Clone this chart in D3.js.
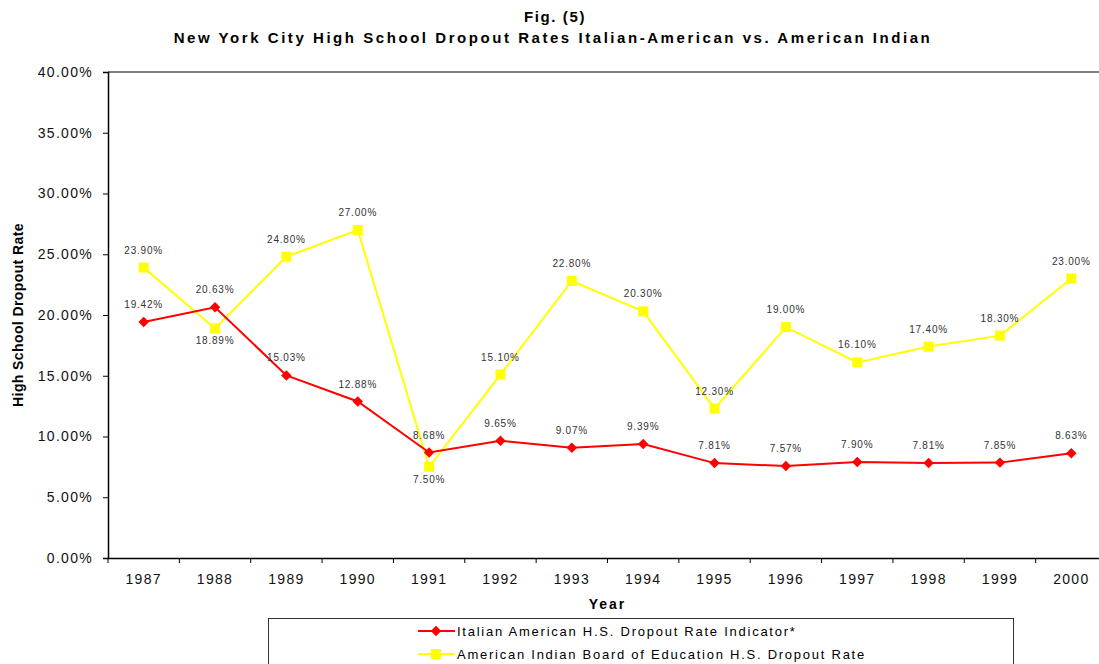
<!DOCTYPE html>
<html>
<head>
<meta charset="utf-8">
<script src="https://cdn.jsdelivr.net/npm/d3@7"></script>
<style>
  html, body { margin: 0; padding: 0; background: #fff; }
  svg { display: block; font-family: "Liberation Sans", Arial, sans-serif; }
</style>
</head>
<body>
<svg id="chart" width="1099" height="664"></svg>
<script>
const years = ["1987","1988","1989","1990","1991","1992","1993","1994","1995","1996","1997","1998","1999","2000"];
const italianValues = [19.42, 20.63, 15.03, 12.88, 8.68, 9.65, 9.07, 9.39, 7.81, 7.57, 7.90, 7.81, 7.85, 8.63];
const indianValues = [23.90, 18.89, 24.80, 27.00, 7.50, 15.10, 22.80, 20.30, 12.30, 19.00, 16.10, 17.40, 18.30, 23.00];
const indianLabelBelow = ["1988", "1991"];
const yTicks = [0, 5, 10, 15, 20, 25, 30, 35, 40];
const seriesNames = ["Italian American H.S. Dropout Rate Indicator*", "American Indian Board of Education H.S. Dropout Rate"];
const titleLines = ["Fig. (5)", "New York City High School Dropout Rates Italian-American vs. American Indian"];

const svg = d3.select("#chart");
const margin = { left: 108, top: 72, right: 1107, bottom: 558 };

const x = d3.scaleBand().domain(years).range([margin.left, margin.right]).padding(0);
const y = d3.scaleLinear().domain([0, 40]).range([margin.bottom, margin.top]);

// Title
svg.append("text").attr("x", 555).attr("y", 22).attr("text-anchor", "middle")
  .attr("font-size", 15).attr("font-weight", "bold").attr("letter-spacing", 1.6).attr("fill", "#000")
  .text(titleLines[0]);
svg.append("text").attr("x", 553).attr("y", 43).attr("text-anchor", "middle")
  .attr("font-size", 15).attr("font-weight", "bold").attr("letter-spacing", 2.55).attr("fill", "#000")
  .text(titleLines[1]);

// Top border line (gray)
svg.append("line").attr("x1", margin.left).attr("x2", 1099)
  .attr("y1", y(40)).attr("y2", y(40)).attr("stroke", "#808080").attr("stroke-width", 2);

// Y axis
const yAxis = d3.axisLeft(y).tickValues(yTicks).tickSize(5).tickPadding(10)
  .tickFormat(d => d3.format(".2f")(d) + "%");
const gy = svg.append("g").attr("transform", `translate(${margin.left},0)`).call(yAxis);
gy.select(".domain").attr("stroke", "#000").attr("stroke-width", 1.5);
gy.selectAll(".tick line").attr("stroke", "#000");
gy.selectAll(".tick text").attr("font-size", 14).attr("letter-spacing", 1.3).attr("fill", "#111")
  .attr("font-family", "'Liberation Sans', Arial, sans-serif");

// X axis
const xAxis = d3.axisBottom(x).tickSize(0).tickPadding(16);
const gx = svg.append("g").attr("transform", `translate(0,${margin.bottom})`).call(xAxis);
gx.select(".domain").attr("stroke", "#000").attr("stroke-width", 1.5);
gx.selectAll(".tick text").attr("font-size", 14).attr("letter-spacing", 1.3).attr("fill", "#111")
  .attr("font-family", "'Liberation Sans', Arial, sans-serif");
// boundary ticks
gx.selectAll("line.bound").data(years).enter().append("line").attr("class", "bound")
  .attr("x1", d => x(d)).attr("x2", d => x(d)).attr("y1", 0).attr("y2", 5)
  .attr("stroke", "#000").attr("stroke-width", 1);

// Axis titles
svg.append("text").attr("x", (margin.left + margin.right) / 2).attr("y", 609).attr("text-anchor", "middle")
  .attr("font-size", 14).attr("font-weight", "bold").attr("letter-spacing", 2).text("Year");
svg.append("text").attr("transform", `translate(23,${(margin.top + margin.bottom) / 2}) rotate(-90)`)
  .attr("text-anchor", "middle").attr("font-size", 14).attr("font-weight", "bold").attr("letter-spacing", 0.4)
  .text("High School Dropout Rate");

const cx = d => x(d) + x.bandwidth() / 2;
const line = d3.line().x(d => cx(d.year)).y(d => y(d.v));

const italian = years.map((yr, i) => ({ year: yr, v: italianValues[i] }));
const indian = years.map((yr, i) => ({ year: yr, v: indianValues[i] }));

// Indian line (yellow)
svg.append("path").datum(indian).attr("d", line).attr("fill", "none")
  .attr("stroke", "#FFFF00").attr("stroke-width", 2);
// Italian line (red)
svg.append("path").datum(italian).attr("d", line).attr("fill", "none")
  .attr("stroke", "#FF0000").attr("stroke-width", 2);

const sq = 10;
svg.selectAll("rect.ind").data(indian).enter().append("rect").attr("class", "ind")
  .attr("x", d => cx(d.year) - sq / 2).attr("y", d => y(d.v) - sq / 2)
  .attr("width", sq).attr("height", sq).attr("fill", "#FFFF00");

const diamond = d3.symbol().type(d3.symbolDiamond2).size(70);
svg.selectAll("path.ita").data(italian).enter().append("path").attr("class", "ita")
  .attr("d", diamond).attr("transform", d => `translate(${cx(d.year)},${y(d.v)})`)
  .attr("fill", "#FF0000");

// Data labels
const fmt = v => d3.format(".2f")(v) + "%";
svg.selectAll("text.lab-ind").data(indian).enter().append("text").attr("class", "lab-ind")
  .attr("x", d => cx(d.year)).attr("y", d => indianLabelBelow.includes(d.year) ? y(d.v) + 16 : y(d.v) - 14)
  .attr("text-anchor", "middle").attr("font-size", 10).attr("letter-spacing", 0.8).attr("fill", "#333")
  .text(d => fmt(d.v));
svg.selectAll("text.lab-ita").data(italian).enter().append("text").attr("class", "lab-ita")
  .attr("x", d => cx(d.year)).attr("y", d => y(d.v) - 14)
  .attr("text-anchor", "middle").attr("font-size", 10).attr("letter-spacing", 0.8).attr("fill", "#333")
  .text(d => fmt(d.v));

// Legend
const lg = svg.append("g");
lg.append("rect").attr("x", 268.5).attr("y", 618.5).attr("width", 745).attr("height", 60)
  .attr("fill", "#fff").attr("stroke", "#333").attr("stroke-width", 1);
const legendItems = [
  { name: seriesNames[0], color: "#FF0000", shape: "diamond", yy: 631 },
  { name: seriesNames[1], color: "#FFFF00", shape: "square", yy: 654 }
];
legendItems.forEach(it => {
  lg.append("line").attr("x1", 418).attr("x2", 455).attr("y1", it.yy).attr("y2", it.yy)
    .attr("stroke", it.color).attr("stroke-width", 2);
  if (it.shape === "diamond") {
    lg.append("path").attr("d", diamond).attr("transform", `translate(436,${it.yy})`).attr("fill", it.color);
  } else {
    lg.append("rect").attr("x", 436 - 5).attr("y", it.yy - 5).attr("width", 10).attr("height", 10).attr("fill", it.color);
  }
  lg.append("text").attr("x", 457).attr("y", it.yy + 5).attr("font-size", 13).attr("letter-spacing", 1.75)
    .attr("fill", "#000").text(it.name);
});
</script>
</body>
</html>
